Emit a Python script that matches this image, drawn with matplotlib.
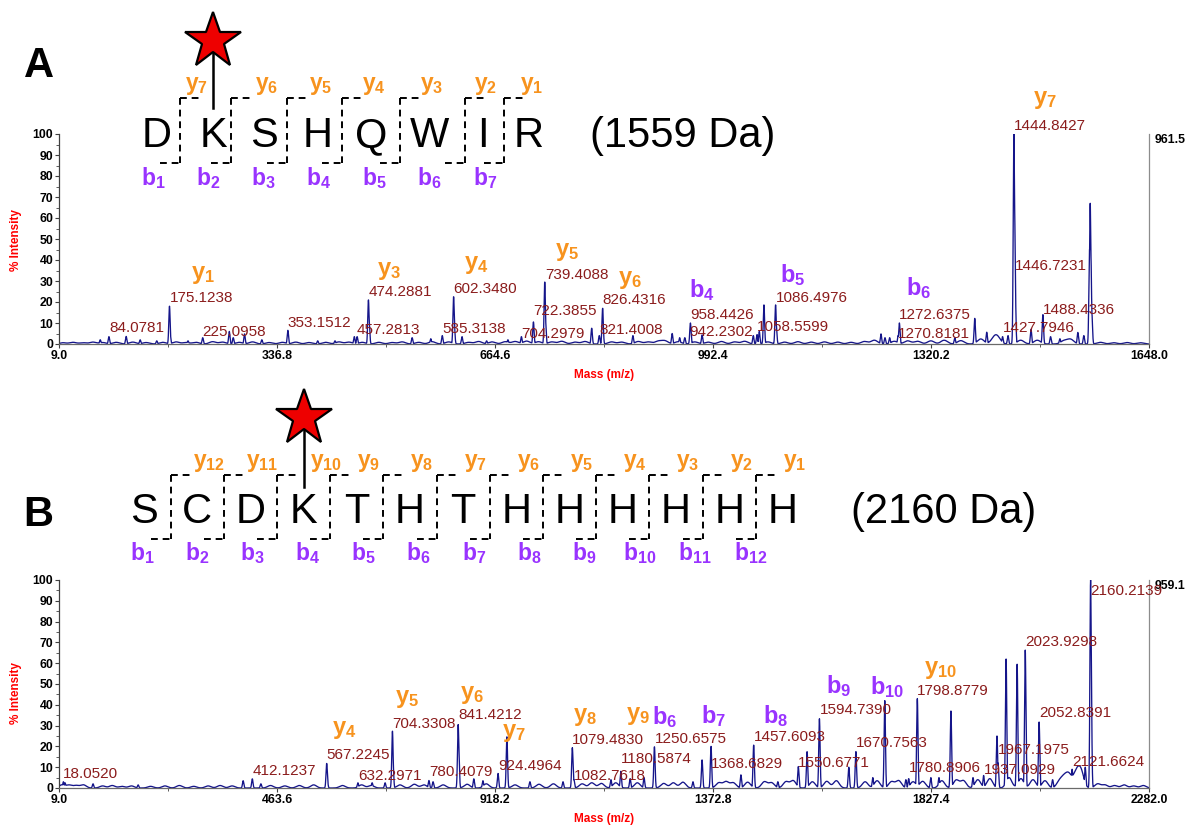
import numpy as np
import matplotlib
matplotlib.use("Agg")
import matplotlib.pyplot as plt

plt.rcParams["font.family"] = ["Liberation Sans", "DejaVu Sans"]
plt.rcParams["mathtext.fontset"] = "custom"
plt.rcParams["mathtext.rm"] = "Liberation Sans"
plt.rcParams["mathtext.it"] = "Liberation Sans:italic"
plt.rcParams["mathtext.bf"] = "Liberation Sans:bold"

# ---------------------------------------------------------------- peptide A
seq_a = list("DKSHQWIR")
site_a = 1                       # labelled lysine
mass_text_a = "(1559 Da)"
range_a = (9.0, 1648.0)
max_counts_a = "961.5"

# annotated peaks (m/z, % intensity)
peak_mz_a = [84.0781, 175.1238, 225.0958, 353.1512, 457.2813, 474.2881, 585.3138,
             602.3480, 704.2979, 722.3855, 739.4088, 821.4008, 826.4316, 942.2302,
             958.4426, 1058.5599, 1086.4976, 1270.8181, 1272.6375, 1427.7946,
             1444.8427, 1446.7231, 1488.4336]
peak_int_a = [3.5, 18.0, 3.0, 6.5, 3.5, 21.0, 4.0,
              22.5, 3.5, 10.5, 29.5, 4.0, 17.0, 3.0,
              10.0, 4.5, 18.6, 4.0, 10.0, 3.5,
              100.0, 29.0, 14.0]

# other resolved peaks
minor_mz_a = [71, 110, 131, 156, 176.1, 203, 265, 271, 288, 314, 398, 424, 453, 475.3,
              540, 568, 603.3, 615, 652, 684, 740.4, 810, 872, 931, 950, 976, 1053,
              1062, 1069, 1087.5, 1245, 1251, 1258, 1356, 1386, 1404, 1436, 1445.8,
              1470.6, 1500, 1514, 1541, 1550, 1558.6, 1559.6, 1560.6, 1562.0]
minor_int_a = [2.0, 3.6, 2.0, 1.5, 5.0, 1.5, 6.0, 3.0, 4.8, 2.0, 1.5, 1.5, 3.5, 11.0,
               3.0, 2.5, 10.0, 3.5, 1.5, 2.0, 12.0, 7.5, 4.0, 5.0, 3.0, 4.3, 4.0,
               6.0, 18.6, 9.0, 4.8, 3.0, 3.0, 3.0, 12.2, 5.6, 4.0, 66.0,
               7.0, 3.5, 2.5, 5.5, 4.0, 45.0, 67.0, 42.0, 15.0]

# chemical background
noise_mz_a = [15, 30, 45, 60, 75, 95, 120, 140, 165, 185, 200, 215, 240, 255, 280, 300,
              325, 345, 365, 385, 410, 430, 445, 465, 490, 510, 525, 550, 570, 595, 625,
              640, 660, 680, 695, 712, 730, 750, 765, 785, 800, 840, 855, 880, 895, 910,
              920, 940, 965, 985, 1005, 1025, 1040, 1075, 1100, 1120, 1140, 1160, 1180,
              1200, 1220, 1235, 1265, 1285, 1300, 1320, 1340, 1365, 1395, 1415, 1420,
              1455, 1480, 1520, 1530, 1575, 1595, 1615, 1635]
noise_int_a = [0.6, 0.8, 0.6, 0.9, 0.7, 0.8, 0.9, 0.7, 0.8, 1.0, 0.7, 0.8, 1.1, 0.9, 0.8, 1.0,
               0.7, 0.8, 0.9, 0.7, 0.8, 1.0, 0.9, 0.8, 0.8, 0.7, 1.0, 0.8, 1.1, 1.0, 0.8,
               1.2, 1.0, 1.1, 1.2, 1.4, 1.1, 1.0, 1.3, 0.9, 1.2, 1.0, 0.9, 1.2, 1.0, 1.3,
               1.5, 1.1, 1.0, 0.9, 1.2, 1.0, 1.3, 1.0, 0.9, 1.1, 0.9, 1.0, 0.9,
               0.8, 1.2, 1.8, 1.3, 1.5, 1.3, 1.5, 1.8, 1.6, 2.4, 2.2, 2.8,
               1.8, 1.8, 1.5, 2.2, 0.8, 0.6, 0.7, 0.6]

ion_kind_a = ["y", "y", "y", "y", "y", "b", "b", "b", "y"]
ion_num_a = [1, 3, 4, 5, 6, 4, 5, 6, 7]

# ---------------------------------------------------------------- peptide B
seq_b = list("SCDKTHTHHHHHH")
site_b = 3
mass_text_b = "(2160 Da)"
range_b = (9.0, 2282.0)
max_counts_b = "959.1"

peak_mz_b = [18.0520, 412.1237, 567.2245, 632.2971, 704.3308, 780.4079, 841.4212,
             924.4964, 1079.4830, 1082.7618, 1180.5874, 1250.6575, 1368.6829,
             1457.6093, 1550.6771, 1594.7390, 1670.7563, 1780.8906, 1798.8779,
             1937.0929, 1967.1975, 2023.9298, 2052.8391, 2121.6624, 2160.2139]
peak_int_b = [3.0, 4.4, 11.8, 2.5, 27.3, 3.6, 30.5,
              7.0, 19.4, 4.0, 8.0, 19.8, 20.0,
              20.6, 10.3, 33.3, 17.5, 4.5, 43.0,
              6.0, 12.0, 66.3, 31.7, 9.0, 100.0]

minor_mz_b = [21.5, 80, 174, 393, 430, 568.2, 662, 689, 705.3, 789, 842.4, 874, 893,
              943, 991, 1060, 1080.5, 1160, 1200, 1229, 1331, 1350, 1431, 1508, 1569,
              1656, 1706, 1731, 1775, 1827, 1844, 1869, 1915, 1965, 1984, 2007, 2081,
              2110, 2149, 2161.2]
minor_int_b = [2.5, 2.0, 1.5, 3.5, 2.0, 5.0, 2.5, 2.5, 14.0, 3.0, 20.5, 4.4, 3.5,
               24.6, 3.0, 3.0, 11.0, 4.0, 4.5, 5.0, 3.0, 13.5, 6.3, 3.0, 17.5,
               10.0, 5.0, 42.0, 4.0, 5.0, 5.0, 37.0, 5.0, 25.0, 62.0, 59.5, 4.0,
               6.0, 10.0, 60.0]

noise_mz_b = [15, 30, 45, 60, 100, 120, 140, 160, 200, 230, 260, 290, 320, 345, 370,
              450, 480, 510, 540, 600, 640, 660, 720, 750, 770, 810, 860, 900, 960,
              1010, 1040, 1100, 1120, 1140, 1170, 1215, 1270, 1290, 1310, 1385, 1400,
              1415, 1445, 1480, 1495, 1525, 1540, 1580, 1610, 1630, 1690, 1715, 1745,
              1760, 1790, 1810, 1850, 1880, 1895, 1925, 1950, 1990, 2015, 2040, 2065,
              2095, 2105, 2115, 2130, 2140, 2175, 2190, 2210, 2230, 2250, 2270]
noise_int_b = [1.5, 1.4, 1.2, 1.5, 1.0, 1.2, 0.8, 1.0, 0.8, 1.0, 1.2, 0.8, 1.0, 1.2, 1.0,
               1.2, 1.0, 1.2, 1.5, 1.2, 1.5, 1.2, 1.5, 1.8, 1.5, 1.5, 1.8, 2.0, 1.5,
               1.8, 2.0, 2.0, 2.5, 2.2, 2.5, 2.5, 2.2, 2.5, 2.8, 2.5, 3.0,
               2.5, 2.8, 3.0, 2.5, 3.0, 3.5, 3.0, 3.2, 3.5, 3.0, 3.5, 3.0,
               3.5, 3.0, 3.2, 3.5, 3.8, 3.5, 4.0, 4.5, 5.0, 4.5, 4.0, 3.5,
               3.0, 4.5, 6.0, 7.0, 8.0, 2.0, 1.5, 1.2, 1.5, 1.0, 1.2]

ion_kind_b = ["y", "y", "y", "y", "y", "y", "b", "b", "b", "b", "b", "y"]
ion_num_b = [4, 5, 6, 7, 8, 9, 6, 7, 8, 9, 10, 10]

# ---------------------------------------------------------------- layout
W, H = 1193, 826
NAVY = "#15158a"
PEAK_TXT = "#8b1c1c"
Y_COL = "#f7931e"
B_COL = "#9933ff"

# label anchor heights (% intensity) for the numeric peak labels
label_y_a = [7.6, 22, 5.7, 10, 6.7, 25, 7, 26, 5, 15.7, 33, 6.7, 21, 5.7, 13.8, 8, 22,
             5, 14, 7.6, 104, 37, 16]
label_dx_a = {942.2302: 14}
label_y_b = [6.8, 8.4, 15.8, 6, 31, 7.6, 35, 10.7, 23, 5.7, 14, 23.5, 11.6, 24.6, 12,
             37.3, 21.4, 9.5, 46.5, 8.7, 18.3, 70.3, 36, 12.7, 94.7]
label_dx_b = {}

# fragment tag positions (m/z, %)
ion_pos_a = [(225, 33), (505, 35), (637, 37.6), (773, 43.8), (868, 30.5), (976, 25.7),
             (1113, 32.9), (1301, 26.7), (1492, 116)]
ion_pos_b = [(603, 27.7), (735, 42.7), (871, 44.5), (958, 26.5), (1106, 34), (1216, 34.5),
             (1271, 34), (1375, 34.5), (1504, 34.5), (1634, 49), (1736, 48.5), (1848, 56.7)]

fig = plt.figure(figsize=(W / 100, H / 100), dpi=100)
ov = fig.add_axes([0, 0, 1, 1], zorder=0)
ov.set_xlim(0, W)
ov.set_ylim(H, 0)
ov.axis("off")


def px_axes(left, top, right, bottom):
    return fig.add_axes([left / W, 1 - bottom / H, (right - left) / W, (bottom - top) / H],
                        zorder=1)


def ion_tex(kind, n):
    return r"$\mathbf{%s}_{\mathbf{%d}}$" % (kind, n)


def draw_spectrum(ax, xr, pk_mz, pk_int, mn_mz, mn_int, nz_mz, nz_int, sigma, nz_sigma):
    x = np.linspace(xr[0], xr[1], 40000)
    peaks = np.zeros_like(x)
    for m, h in zip(list(pk_mz) + list(mn_mz), list(pk_int) + list(mn_int)):
        peaks = np.maximum(peaks, h * np.exp(-0.5 * ((x - m) / sigma) ** 2))
    base = np.zeros_like(x)
    for m, h in zip(nz_mz, nz_int):
        base += h * np.exp(-0.5 * ((x - m) / nz_sigma) ** 2)
    ax.plot(x, np.maximum(peaks, base), color=NAVY, lw=0.95, zorder=2)


def style_axes(ax, xr, top_label):
    ax.set_xlim(*xr)
    ax.set_ylim(0, 100)
    ax.set_facecolor("none")
    ax.spines["top"].set_visible(False)
    ax.spines["right"].set_color("#8c8c8c")
    ax.spines["left"].set_color("#404040")
    ax.spines["bottom"].set_color("#6a6a6a")
    for s in ax.spines.values():
        s.set_linewidth(0.9)
    major = np.linspace(xr[0], xr[1], 6)
    ax.set_xticks(major)
    ax.set_xticks(np.linspace(xr[0], xr[1], 11), minor=True)
    ax.set_xticklabels([f"{v:.1f}" for v in major])
    ax.set_yticks(np.arange(0, 101, 10))
    ax.set_yticks(np.arange(0, 101, 5), minor=True)
    ax.tick_params(which="both", direction="out", colors="#404040", labelcolor="black",
                   labelsize=8.8)
    ax.tick_params(which="major", length=3, width=0.8)
    ax.tick_params(which="minor", length=2, width=0.6)
    ax.tick_params(axis="x", pad=1.5)
    ax.tick_params(axis="y", pad=1.2)
    for lab in ax.get_xticklabels() + ax.get_yticklabels():
        lab.set_fontweight("bold")
    ax.text(1.005, 0.97, top_label, transform=ax.transAxes, ha="left", va="center",
            fontsize=8.8, fontweight="bold", color="black")


def annotate(ax, pk_mz, label_y, label_dx, ion_kind, ion_num, ion_pos):
    for m, ly in zip(pk_mz, label_y):
        ax.text(m + label_dx.get(m, 0), ly, f"{m:.4f}", color=PEAK_TXT, fontsize=11,
                ha="left", va="center", clip_on=False, zorder=3)
    for k, n, (px, py) in zip(ion_kind, ion_num, ion_pos):
        ax.text(px, py, ion_tex(k, n), color=Y_COL if k == "y" else B_COL, fontsize=17,
                ha="center", va="center", clip_on=False, zorder=3)


def draw_header(seq, site, centers, cuts, box_top, box_bot, letter_base,
                y_dx, star_shift, y_base, b_x, b_base, star_y, stem_bot,
                mass_text, mass_x):
    n = len(seq)
    for c, aa in zip(centers, seq):
        ov.text(c, letter_base, aa, fontsize=30, ha="center", va="baseline", color="black")
    ov.text(mass_x, letter_base, mass_text, fontsize=30, ha="left", va="baseline",
            color="black")
    dash = dict(color="black", lw=1.4, linestyle=(0, (3.5, 2.5)))
    for k, cx in enumerate(cuts, start=1):
        ov.plot([cx, cx], [box_top, box_bot], **dash)
        ov.plot([cx, cx + 20], [box_top, box_top], **dash)
        ov.plot([cx - 20, cx], [box_bot, box_bot], **dash)
        yx = centers[k] + y_dx + (star_shift if k == site else 0)
        ov.text(yx, y_base, ion_tex("y", n - k), color=Y_COL, fontsize=16.5,
                ha="center", va="baseline")
        ov.text(b_x[k - 1], b_base, ion_tex("b", k), color=B_COL, fontsize=16.5,
                ha="center", va="baseline")
    sx = centers[site]
    ov.plot([sx, sx], [star_y, stem_bot], color="black", lw=1.8, zorder=2)
    ov.plot([sx], [star_y], marker="*", ms=42, mfc="#ee0000", mec="black", mew=1.6,
            zorder=3)


# ---------------------------------------------------------------- panel A
ax_a = px_axes(59, 134, 1149, 344)
draw_spectrum(ax_a, range_a, peak_mz_a, peak_int_a, minor_mz_a, minor_int_a,
              noise_mz_a, noise_int_a, 1.0, 5.0)
style_axes(ax_a, range_a, max_counts_a)
annotate(ax_a, peak_mz_a, label_y_a, label_dx_a, ion_kind_a, ion_num_a, ion_pos_a)

centers_a = [157, 213, 264, 318, 371, 429, 483, 529]
cuts_a = [180, 231, 287, 342, 400, 465, 504]
draw_header(seq_a, site_a, centers_a, cuts_a, 98, 163, 147, 3, -19, 90,
            [153 + 55.3 * i for i in range(len(cuts_a))], 185, 41, 108,
            mass_text_a, 590)
ov.text(39, 66, "A", fontsize=30, fontweight="bold", ha="center", va="center")
ov.text(16, 240, "% Intensity", rotation=90, color="red", fontsize=8.5,
        fontweight="bold", ha="center", va="center")
ov.text(604, 375, "Mass (m/z)", color="red", fontsize=8.5, fontweight="bold",
        ha="center", va="center")

# ---------------------------------------------------------------- panel B
ax_b = px_axes(59, 580, 1149, 788)
draw_spectrum(ax_b, range_b, peak_mz_b, peak_int_b, minor_mz_b, minor_int_b,
              noise_mz_b, noise_int_b, 1.4, 6.0)
style_axes(ax_b, range_b, max_counts_b)
annotate(ax_b, peak_mz_b, label_y_b, label_dx_b, ion_kind_b, ion_num_b, ion_pos_b)

centers_b = [144 + 53.2 * i for i in range(len(seq_b))]
cuts_b = [(centers_b[i] + centers_b[i + 1]) / 2 for i in range(len(seq_b) - 1)]
draw_header(seq_b, site_b, centers_b, cuts_b, 475, 539, 523, 12, 10, 467,
            [142 + 55.3 * i for i in range(len(cuts_b))], 560, 418, 487,
            mass_text_b, 851)
ov.text(38, 515, "B", fontsize=30, fontweight="bold", ha="center", va="center")
ov.text(16, 693, "% Intensity", rotation=90, color="red", fontsize=8.5,
        fontweight="bold", ha="center", va="center")
ov.text(604, 819, "Mass (m/z)", color="red", fontsize=8.5, fontweight="bold",
        ha="center", va="center")

fig.savefig("out.png", dpi=100)
